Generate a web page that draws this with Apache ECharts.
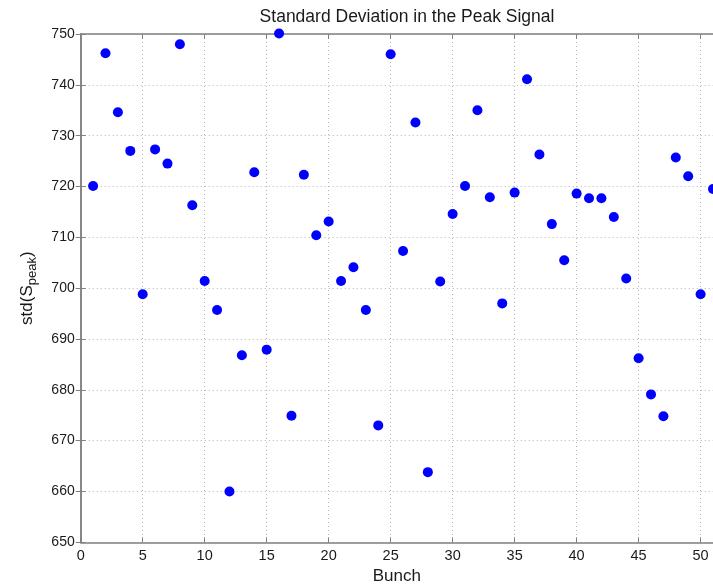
<!DOCTYPE html>
<html><head><meta charset="utf-8">
<script src="https://cdn.jsdelivr.net/npm/echarts@6/dist/echarts.min.js"></script>
<style>html,body{margin:0;padding:0;background:#fff}#c{width:713px;height:585px}</style>
</head><body><div id="c"></div>
<script>
const bunches = [1,2,3,4,5,6,7,8,9,10,11,12,13,14,15,16,17,18,19,20,21,22,23,24,25,26,27,28,29,30,31,32,33,34,35,36,37,38,39,40,41,42,43,44,45,46,47,48,49,50,51];
const stdPeak = [720.1,746.2,734.6,727.0,698.8,727.3,724.5,748.0,716.3,701.4,695.7,660.0,686.8,722.8,687.9,750.1,674.9,722.3,710.4,713.1,701.4,704.1,695.7,673.0,746.0,707.3,732.6,663.8,701.3,714.6,720.1,735.0,717.9,697.0,718.8,741.1,726.3,712.6,705.5,718.6,717.7,717.7,714.0,701.9,686.2,679.1,674.8,725.7,722.0,698.8,719.5];
const xTicks = [0,5,10,15,20,25,30,35,40,45,50];
const yTicks = [650,660,670,680,690,700,710,720,730,740,750];

const font = 'Liberation Sans, Arial, sans-serif';
const axisCol = '#808080';
const chart = echarts.init(document.getElementById('c'));
const pts = bunches.map((b,i)=>[b, stdPeak[i]]);
chart.setOption({
  animation:false,
  title:{text:'Standard Deviation in the Peak Signal',left:402,top:3,textAlign:'center',
    textStyle:{fontFamily:font,fontSize:17.5,fontWeight:'normal',color:'#1a1a1a'}},
  grid:{left:80.7,top:34,right:0,bottom:42.7,containLabel:false,outerBoundsMode:'none'},
  xAxis:[{type:'value',min:0,max:51,interval:5,position:'bottom',
    name:'Bunch',nameLocation:'middle',nameGap:22,
    nameTextStyle:{fontFamily:font,fontSize:17,color:'#1a1a1a'},
    axisLine:{lineStyle:{color:axisCol,width:1.5}},
    axisTick:{inside:true,length:5,lineStyle:{color:axisCol}},
    axisLabel:{fontFamily:font,fontSize:14.5,color:'#1a1a1a',margin:6,
      formatter:v=>xTicks.includes(v)?String(v):''},
    splitLine:{show:true,lineStyle:{color:'#b4b4b4',type:[1,3]}}},
   {type:'value',min:0,max:51,interval:5,position:'top',
    axisLine:{lineStyle:{color:axisCol,width:1.5}},
    axisTick:{inside:true,length:5,lineStyle:{color:axisCol}},
    axisLabel:{show:false},splitLine:{show:false}}],
  yAxis:[{type:'value',min:650,max:750,interval:10,position:'left',
    name:'std(S{sub|peak})',nameLocation:'middle',nameGap:42,nameRotate:90,
    nameTextStyle:{fontFamily:font,fontSize:17,color:'#1a1a1a',
      rich:{sub:{fontFamily:font,fontSize:13,color:'#1a1a1a',verticalAlign:'bottom',padding:[10,0,0,0]}}},
    axisLine:{show:true,lineStyle:{color:axisCol,width:1.5}},
    axisTick:{show:true,inside:true,length:5,lineStyle:{color:axisCol}},
    axisLabel:{fontFamily:font,fontSize:14,color:'#1a1a1a',margin:6,
      formatter:v=>yTicks.includes(v)?String(v):''},
    splitLine:{show:true,lineStyle:{color:'#b4b4b4',type:[1,3]}}},
   {type:'value',min:650,max:750,interval:10,position:'right',
    axisLine:{show:true,lineStyle:{color:axisCol,width:1.5}},
    axisTick:{show:true,inside:true,length:5,lineStyle:{color:axisCol}},
    axisLabel:{show:false},splitLine:{show:false}}],
  series:[{type:'scatter',data:pts,symbol:'circle',symbolSize:10,
    itemStyle:{color:'#0000ff',opacity:1},clip:false}]
});
</script></body></html>
